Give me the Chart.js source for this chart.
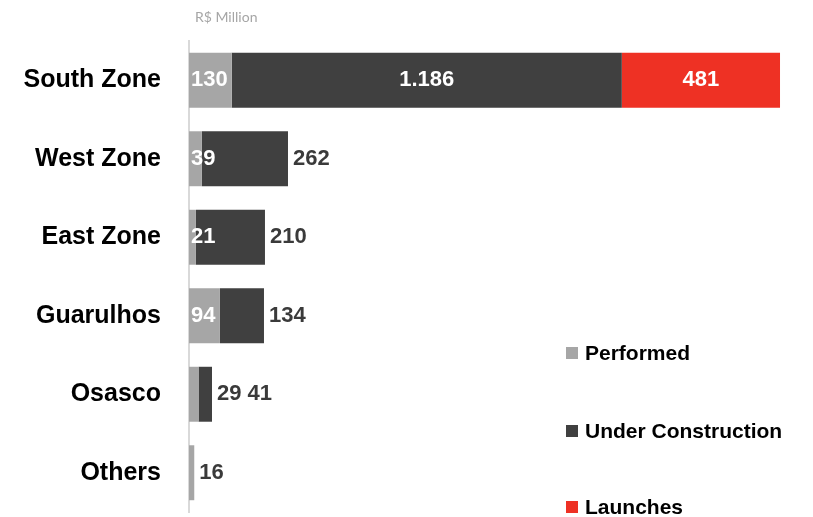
<!DOCTYPE html>
<html lang="en">
<head>
<meta charset="UTF-8">
<title>Landbank by region</title>
<script src="https://cdn.jsdelivr.net/npm/chart.js"></script>
<style>
  body {
    margin: 0;
    padding: 0;
    background: #fff;
    font-family: "Liberation Sans", Arial, sans-serif;
  }
  .wrap {
    position: relative;
    width: 813px;
    height: 517px;
  }
  canvas { display: block; }
  .unit {
    position: absolute;
    left: 195px;
    top: 8px;
    font-size: 14px;
    color: #a6a6a6;
    font-family: Lato, "Liberation Sans", sans-serif;
  }
  .legend {
    position: absolute;
    left: 566px;
    top: 0;
  }
  .legend div {
    position: absolute;
    white-space: nowrap;
    font-size: 21px;
    font-weight: bold;
    color: #000;
    line-height: 24px;
  }
  .legend span {
    display: inline-block;
    width: 12px;
    height: 12px;
    margin-right: 7px;
    vertical-align: 1px;
  }
</style>
</head>
<body>
<div class="wrap">
  <canvas id="chart" width="813" height="517"></canvas>
  <div class="unit">R$ Million</div>
  <div class="legend" id="legend"></div>
</div>

<script>
  // datos
  var categories = ['South Zone', 'West Zone', 'East Zone', 'Guarulhos', 'Osasco', 'Others'];
  var performed = [130, 39, 21, 94, 29, 16];
  var underConstruction = [1186, 262, 210, 134, 41, 0];
  var launches = [481, 0, 0, 0, 0, 0];
  var seriesNames = ['Performed', 'Under Construction', 'Launches'];
  var seriesColors = ['#a6a6a6', '#404040', '#ee3124'];

  function fmt(v) {
    return String(v).replace(/\B(?=(\d{3})+(?!\d))/g, '.');
  }

  // etiquetas de valores como en excel
  var valueLabels = {
    id: 'valueLabels',
    afterDatasetsDraw: function(chart) {
      var ctx = chart.ctx;
      var n = chart.data.labels.length;
      ctx.save();
      ctx.font = 'bold 22px "Liberation Sans", Arial, sans-serif';
      ctx.textBaseline = 'middle';
      var spaceW = ctx.measureText(' ').width;
      for (var i = 0; i < n; i++) {
        var first = chart.getDatasetMeta(0).data[i];
        var stackStart = first.base;
        var stackEnd = stackStart;
        chart.data.datasets.forEach(function(ds, d) {
          var el = chart.getDatasetMeta(d).data[i];
          if (ds.data[i] > 0) stackEnd = Math.max(stackEnd, el.x);
        });
        var outX = stackEnd + 5;
        chart.data.datasets.forEach(function(ds, d) {
          var v = ds.data[i];
          if (!v) return;
          var el = chart.getDatasetMeta(d).data[i];
          var txt = fmt(v);
          var w = ctx.measureText(txt).width;
          var segW = el.x - el.base;
          var inside;
          if (d === 0) inside = w + 4 < stackEnd - stackStart;
          else if (d === 1) inside = segW > 150;
          else inside = true;
          if (inside) {
            ctx.fillStyle = '#fff';
            if (d === 0) {
              ctx.textAlign = 'left';
              ctx.fillText(txt, stackStart + 2, el.y);
            } else {
              ctx.textAlign = 'center';
              ctx.fillText(txt, (el.x + el.base) / 2, el.y);
            }
          } else {
            ctx.fillStyle = '#3a3a3a';
            ctx.textAlign = 'left';
            ctx.fillText(txt, outX, el.y);
            outX += w + spaceW;
          }
        });
      }
      ctx.restore();
    }
  };

  var datasets = [performed, underConstruction, launches].map(function(arr, k) {
    return {
      label: seriesNames[k],
      data: arr,
      backgroundColor: seriesColors[k],
      borderWidth: 0,
      categoryPercentage: 1,
      barPercentage: 0.7
    };
  });

  new Chart(document.getElementById('chart').getContext('2d'), {
    type: 'bar',
    data: { labels: categories, datasets: datasets },
    options: {
      indexAxis: 'y',
      responsive: false,
      animation: false,
      layout: { padding: { top: 41, bottom: 5, right: 32, left: 0 } },
      plugins: {
        legend: { display: false },
        tooltip: { enabled: false }
      },
      scales: {
        x: {
          stacked: true,
          min: 0,
          max: 1800,
          display: false
        },
        y: {
          stacked: true,
          afterFit: function(scale) {
            scale.width = 189;
            // sin el hueco que mete el padding de las etiquetas
            scale.paddingTop = 0;
            scale.paddingBottom = 0;
          },
          grid: { display: false, drawTicks: false },
          border: { display: true, color: '#d9d9d9', width: 2 },
          ticks: {
            padding: 28,
            color: '#000',
            font: { family: '"Liberation Sans", Arial, sans-serif', size: 25, weight: 'bold' }
          }
        }
      }
    },
    plugins: [valueLabels]
  });

  // leyenda a la derecha abajo
  var legendTops = [341, 419, 495];
  var lg = document.getElementById('legend');
  seriesNames.forEach(function(name, k) {
    var row = document.createElement('div');
    row.style.top = legendTops[k] + 'px';
    row.innerHTML = '<span style="background:' + seriesColors[k] + '"></span>' + name;
    lg.appendChild(row);
  });
</script>
</body>
</html>
